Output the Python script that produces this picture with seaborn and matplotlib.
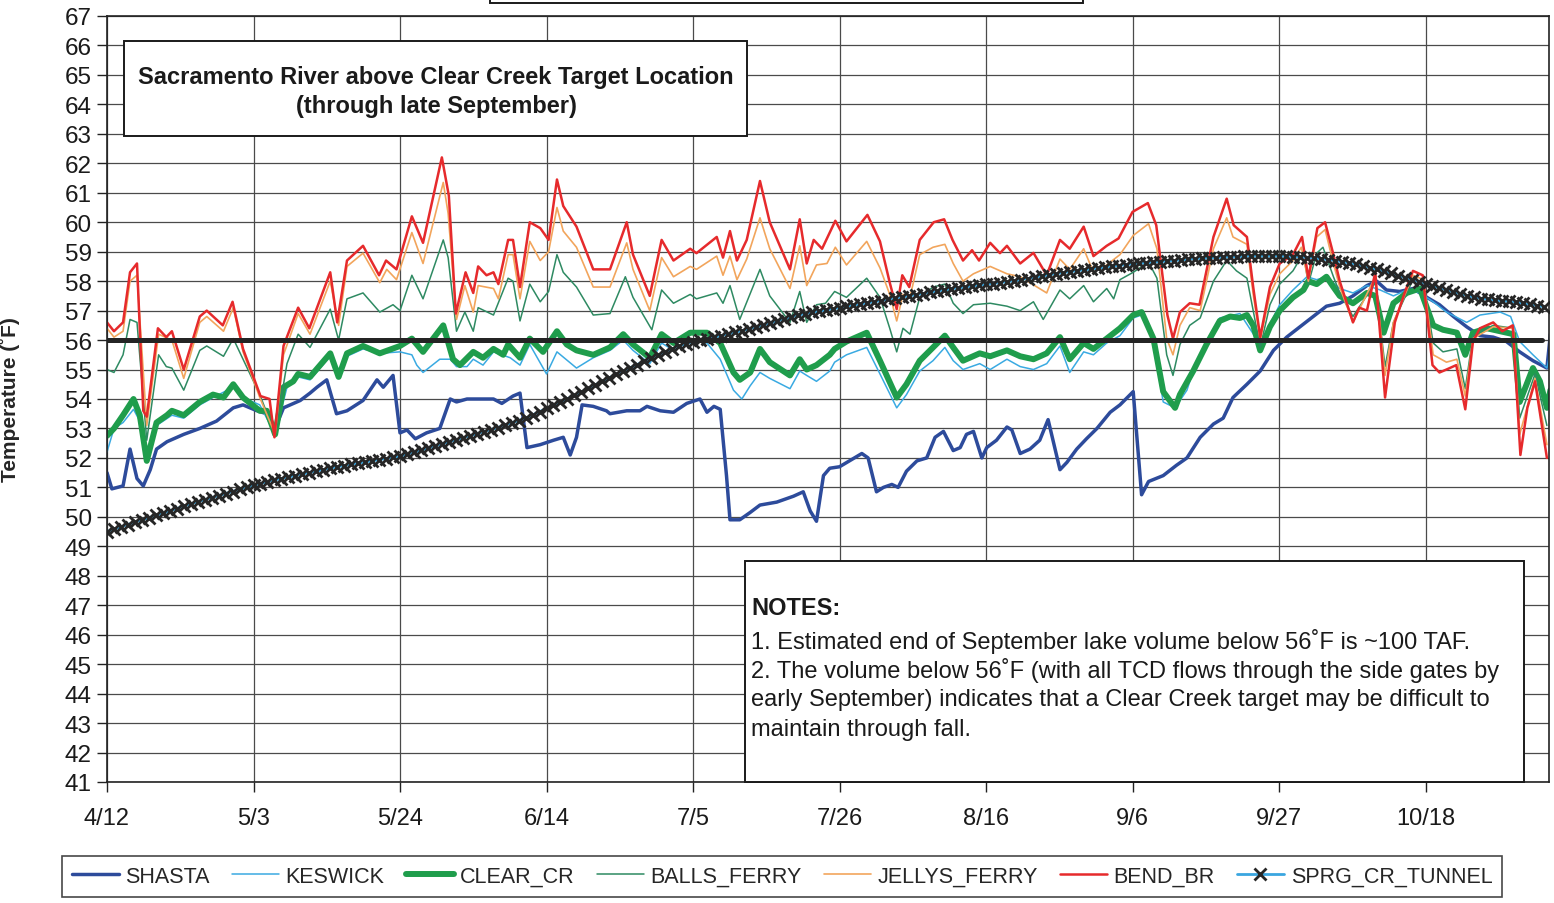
import numpy as np
import pandas as pd
import matplotlib
matplotlib.use("Agg")
import matplotlib.pyplot as plt
from matplotlib.lines import Line2D
from matplotlib.patches import Rectangle
import seaborn as sns

# ---------------- data ----------------
YEAR = "2014"
x_tick_labels = ["4/12", "5/3", "5/24", "6/14", "7/5", "7/26", "8/16", "9/6", "9/27", "10/18"]
y_ticks = list(range(41, 68))

# day offsets from 4/12 and temperatures (deg F)
shasta_days = [0, 0.7, 2.3, 3.3, 4.3, 5.2, 6.2, 7.1, 8.6, 11,
               13.3, 15.7, 18.1, 19.5, 21.5, 22.9, 24.1, 25.3, 27.7, 29.1,
               30.1, 31.5, 32.9, 34.4, 36.7, 38.7, 39.6, 41, 42, 43,
               44.2, 45.8, 47.7, 49.2, 50.1, 51.6, 53, 55.4, 56.6, 58.2,
               59.2, 60.2, 62.1, 64, 65.4, 66.4, 67.3, 68.1, 69.7, 71.6,
               72.1, 74.5, 76.4, 77.4, 79.3, 81.2, 83.1, 85, 86, 87,
               87.9, 88.8, 89.3, 90.7, 92.2, 93.6, 96, 98.4, 99.8, 100.8,
               101.7, 102.7, 103.6, 105, 108.2, 109.1, 110.3, 111.3, 112.5, 113.4,
               114.6, 116.1, 117.5, 118.7, 119.9, 121.3, 122.3, 123.2, 124.2, 125.4,
               126.1, 127.5, 129, 129.7, 130.9, 132.3, 133.7, 134.9, 135.6, 136.6,
               137.6, 139, 140.4, 141.9, 143.8, 145.2, 147.1, 148.3, 149.3, 151.4,
               153.3, 154.8, 156.7, 158.6, 160, 161.4, 163.4, 165.3, 167.2, 169.1,
               171, 172.9, 174.8, 176.7, 178.6, 180.6, 182, 183.4, 185.3, 187.2,
               189.2, 191, 193, 194.9, 196.8, 198.7, 200.6, 202.5, 204.4, 206.4,
               206.9]
shasta_temp = [51.5, 50.95, 51.05, 52.3, 51.3, 51.05, 51.6, 52.3, 52.55, 52.8,
               53.0, 53.25, 53.7, 53.8, 53.6, 53.5, 53.0, 53.7, 53.95, 54.2,
               54.4, 54.65, 53.5, 53.6, 53.95, 54.65, 54.4, 54.8, 52.85, 52.95,
               52.65, 52.85, 53.0, 54.0, 53.9, 54.0, 54.0, 54.0, 53.85, 54.1,
               54.2, 52.35, 52.45, 52.6, 52.7, 52.1, 52.7, 53.8, 53.75, 53.6,
               53.5, 53.6, 53.6, 53.75, 53.6, 53.55, 53.85, 54.0, 53.55, 53.75,
               53.65, 51.4, 49.9, 49.9, 50.15, 50.4, 50.5, 50.7, 50.85, 50.2,
               49.85, 51.4, 51.65, 51.7, 52.15, 52.0, 50.85, 51.0, 51.1, 51.0,
               51.55, 51.9, 52.0, 52.7, 52.9, 52.25, 52.35, 52.8, 52.9, 52.0,
               52.35, 52.6, 53.05, 52.95, 52.15, 52.3, 52.6, 53.3, 52.6, 51.6,
               51.85, 52.3, 52.65, 53.0, 53.55, 53.8, 54.25, 50.75, 51.2, 51.4,
               51.75, 52.0, 52.7, 53.15, 53.35, 54.05, 54.5, 54.95, 55.65, 56.1,
               56.45, 56.8, 57.15, 57.25, 57.5, 57.85, 58.0, 57.7, 57.65, 57.75,
               57.45, 57.2, 56.8, 56.45, 56.15, 56.1, 55.95, 55.6, 55.3, 55.05,
               56.2]

keswick_days = [0, 1, 2.3, 3.8, 4.7, 5.7, 7.1, 9.3, 11, 13.3,
                15.2, 18.1, 19.5, 21.9, 24.1, 25.8, 27.4, 29.1, 32, 33.2,
                34.4, 36.7, 39.1, 42, 43.7, 44.4, 45.3, 47.7, 49.2, 50.1,
                51.6, 52.5, 53.9, 55.4, 57.8, 59.2, 60.6, 63, 64.5, 67.3,
                69.7, 72.1, 74, 75.4, 77.8, 79.5, 81.2, 83.6, 86, 87.9,
                89.8, 91, 92.2, 93.6, 95, 97.9, 99.3, 100.3, 101.7, 103.6,
                104.3, 106, 108.9, 110.8, 113.2, 114.6, 116.5, 118.4, 120.1, 121.3,
                122.7, 125.1, 126.6, 129, 130.9, 132.8, 134.7, 136.6, 138, 140,
                141.4, 143.3, 145.2, 147.1, 148.3, 150, 151.4, 153.1, 154.8, 155.7,
                157.6, 159.5, 162.4, 165.3, 166.7, 168.1, 170, 172, 173.4, 174.8,
                176.7, 178.6, 180.6, 182.5, 184.4, 186.3, 188.2, 190.1, 192, 194.9,
                196.8, 199.7, 201.2, 202.5, 204.4, 206.4, 206.9]
keswick_temp = [52.2, 53.0, 53.2, 53.65, 53.25, 52.1, 53.1, 53.45, 53.35, 53.8,
                54.05, 54.4, 54.05, 53.8, 52.8, 54.4, 54.75, 54.65, 55.45, 54.75,
                55.45, 55.7, 55.55, 55.6, 55.5, 55.15, 54.9, 55.35, 55.35, 55.1,
                55.1, 55.35, 55.15, 55.6, 55.4, 55.15, 55.85, 54.85, 55.6, 55.05,
                55.4, 55.65, 56.0, 55.65, 55.2, 55.9, 55.65, 56.0, 55.9, 55.35,
                54.3, 54.0, 54.45, 54.9, 54.7, 54.35, 54.95, 54.8, 54.6, 54.95,
                55.25, 55.5, 55.75, 54.85, 53.7, 54.15, 54.95, 55.3, 55.75, 55.3,
                55.0, 55.2, 55.0, 55.35, 55.1, 55.0, 55.2, 55.8, 54.9, 55.6,
                55.5, 55.9, 56.15, 56.75, 56.85, 55.95, 53.9, 53.7, 54.3, 54.95,
                55.95, 56.75, 56.9, 55.85, 56.55, 57.2, 57.7, 58.15, 58.05, 58.15,
                57.75, 57.6, 57.85, 57.7, 57.5, 57.7, 57.6, 57.3, 56.95, 56.6,
                56.85, 56.95, 56.8, 55.95, 55.5, 55.05, 55.6]

clear_days = [0, 1, 2.3, 3.8, 4.7, 5.7, 7.1, 8.6, 9.3, 11,
              13.3, 15.2, 16.7, 18.1, 19.5, 21.9, 22.9, 24.1, 25.3, 26.7,
              27.4, 29.1, 32, 33.2, 34.4, 36.7, 39.1, 42, 43.7, 45.3,
              48.2, 49.6, 50.6, 52.5, 53.9, 55.4, 56.8, 57.5, 59.2, 60.6,
              62.5, 64.5, 65.9, 67.3, 69.7, 72.1, 74, 75.4, 77.8, 79.5,
              81.2, 83.6, 86, 87.9, 89.8, 90.7, 92.2, 93.6, 95, 97.9,
              99.3, 100.3, 101.7, 103.6, 104.3, 106, 108.9, 110.8, 113.2, 114.6,
              116.5, 118.4, 120.1, 121.3, 122.7, 125.1, 126.6, 129, 130.9, 132.8,
              134.7, 136.6, 138, 140, 141.4, 143.3, 145.2, 147.1, 148.3, 150,
              151.4, 153.1, 153.8, 155.7, 157.6, 159.5, 161, 162.4, 163.4, 164.3,
              165.3, 166.7, 168.1, 170, 171.5, 172.2, 173.4, 174.8, 175.8, 176.7,
              178.6, 180.6, 181.8, 183, 184.4, 186.3, 188.2, 190.1, 191.5, 193.5,
              194.7, 195.8, 197.8, 199.7, 201.6, 202.5, 204.4, 205.4, 206.4, 206.9]
clear_temp = [52.75, 53.0, 53.45, 54.0, 53.45, 51.9, 53.2, 53.45, 53.6, 53.45,
              53.9, 54.15, 54.05, 54.5, 54.05, 53.6, 53.6, 52.8, 54.4, 54.6,
              54.85, 54.75, 55.55, 54.75, 55.55, 55.8, 55.55, 55.8, 56.05, 55.6,
              56.5, 55.35, 55.15, 55.6, 55.4, 55.7, 55.5, 55.85, 55.4, 56.05,
              55.6, 56.3, 55.85, 55.65, 55.5, 55.75, 56.2, 55.85, 55.4, 56.2,
              55.9, 56.25, 56.25, 55.9, 54.9, 54.65, 54.9, 55.7, 55.25, 54.8,
              55.35, 55.0, 55.15, 55.5, 55.7, 55.95, 56.25, 55.3, 54.05, 54.5,
              55.3, 55.75, 56.15, 55.75, 55.3, 55.55, 55.45, 55.65, 55.45, 55.35,
              55.55, 56.1, 55.35, 55.9, 55.7, 56.05, 56.4, 56.85, 56.95, 56.05,
              54.25, 53.7, 54.15, 54.95, 55.85, 56.65, 56.8, 56.75, 56.85, 56.5,
              55.65, 56.45, 57.0, 57.45, 57.7, 58.0, 57.9, 58.15, 57.8, 57.5,
              57.25, 57.6, 57.5, 56.25, 57.25, 57.6, 57.75, 56.5, 56.35, 56.25,
              55.5, 56.25, 56.4, 56.3, 56.2, 53.9, 55.05, 54.6, 53.7, 54.3]

balls_days = [0, 1, 2.3, 3.3, 4.3, 5.7, 7.4, 8.5, 9.3, 11,
              13.3, 14.3, 16.7, 18.1, 19.5, 21.9, 24.1, 25.8, 27.4, 29.1,
              32, 33.2, 34.4, 36.7, 39.1, 41, 42, 43.7, 45.3, 48.2,
              48.9, 50.1, 51.3, 52.5, 53.2, 55.4, 57.5, 58.2, 59.2, 60.6,
              62.1, 63.3, 64.5, 65.4, 67.3, 69.7, 72.1, 74.3, 75.4, 78.1,
              79.5, 81.2, 83.6, 84.5, 87.4, 88.3, 89.3, 90.7, 93.6, 95,
              97.9, 99.3, 100.3, 101.7, 103, 104.3, 106, 108.9, 110.8, 112.2,
              113.2, 114.1, 115.1, 116.5, 118.4, 120.1, 121.3, 122.7, 124.2, 126.6,
              129, 130.9, 132.8, 134.2, 136.6, 138, 140, 141.4, 143.3, 144.3,
              145.2, 147.1, 149.3, 150.5, 151.9, 152.8, 153.8, 155.2, 156.7, 158.6,
              160.5, 161.9, 163.4, 164.3, 165.3, 166.7, 168.1, 170, 171.5, 172.2,
              173.4, 174.3, 175.8, 176.7, 178.6, 181.8, 183.2, 184.4, 187.2, 188.7,
              190.1, 191.5, 193.5, 194.7, 195.8, 198.7, 201.6, 202.5, 204.7, 206.4]
balls_temp = [55.0, 54.9, 55.5, 56.7, 56.6, 52.6, 55.5, 55.1, 55.05, 54.3,
              55.65, 55.8, 55.45, 56.05, 55.35, 54.15, 52.8, 55.2, 56.2, 55.75,
              57.05, 56.0, 57.4, 57.6, 56.95, 57.2, 57.0, 58.2, 57.4, 59.4,
              58.8, 56.3, 56.95, 56.3, 57.1, 56.85, 58.1, 58.0, 56.65, 57.9,
              57.3, 57.65, 58.9, 58.3, 57.8, 56.85, 56.9, 58.15, 57.45, 56.35,
              57.7, 57.25, 57.55, 57.4, 57.6, 57.25, 57.85, 56.7, 58.4, 57.5,
              56.6, 57.65, 56.6, 57.2, 57.25, 57.65, 57.45, 58.1, 57.45, 56.4,
              55.6, 56.4, 56.2, 57.45, 57.8, 57.9, 57.25, 56.9, 57.2, 57.25,
              57.15, 57.0, 57.3, 56.7, 57.7, 57.4, 57.85, 57.3, 57.75, 57.4,
              58.05, 58.3, 58.65, 58.1, 55.5, 54.8, 55.85, 56.5, 56.75, 58.0,
              58.7, 58.35, 58.1, 57.0, 55.75, 57.2, 57.9, 58.35, 58.95, 57.9,
              58.95, 59.15, 58.15, 57.6, 56.8, 57.95, 55.1, 56.6, 58.05, 57.95,
              55.9, 55.6, 55.7, 54.35, 56.15, 56.5, 56.4, 53.35, 54.85, 53.1]

jellys_days = [0, 1, 2.3, 3.3, 4.3, 5.7, 7.4, 9.3, 11, 13.3,
               14.3, 16.7, 18.1, 19.5, 21.9, 24.1, 25.3, 27.4, 29.1, 32,
               33.2, 34.4, 36.7, 39.1, 40.1, 41.5, 43.7, 45.3, 48.2, 48.9,
               50.1, 51.3, 52.5, 53.2, 55.4, 56.1, 57.5, 58.2, 59.2, 60.6,
               62.1, 63.3, 64.5, 65.4, 67.3, 69.7, 72.1, 74.5, 75.4, 77.8,
               79.5, 81.2, 83.6, 84.5, 87.4, 88.3, 89.3, 90.3, 91.7, 93.6,
               95, 97.9, 99.3, 100.3, 101.7, 103.2, 104.4, 106, 108.9, 110.8,
               112.2, 113.2, 114.1, 115.1, 116.5, 118.4, 120.1, 121.3, 122.7, 124.2,
               126.6, 129, 130.9, 134.7, 136.6, 138, 140, 141.4, 143.3, 145.2,
               147.1, 149.3, 150.5, 151.9, 152.8, 153.8, 155.2, 156.7, 158.6, 160.5,
               161.4, 163.4, 164.3, 165.3, 166.7, 168.1, 170, 171.2, 172.2, 173.4,
               174.6, 175.8, 176.7, 178.6, 181.8, 183.2, 184.4, 187.2, 188.7, 190.1,
               192, 193.5, 194.7, 195.8, 198.7, 201.6, 202.5, 204.7, 206.4]
jellys_temp = [56.4, 56.1, 56.3, 58.0, 58.2, 53.1, 56.2, 56.0, 54.7, 56.6,
               56.8, 56.3, 57.1, 55.6, 54.05, 52.8, 55.5, 56.9, 56.2, 58.0,
               56.5, 58.5, 58.95, 57.95, 58.4, 58.05, 59.65, 58.6, 61.35, 60.3,
               56.7, 57.85, 56.95, 57.85, 57.75, 57.4, 58.9, 58.9, 57.4, 59.35,
               58.7, 59.0, 60.5, 59.7, 59.15, 57.8, 57.8, 59.3, 58.4, 57.0,
               58.8, 58.15, 58.5, 58.4, 58.85, 58.2, 58.85, 58.05, 58.75, 60.15,
               59.1, 57.75, 59.2, 57.85, 58.55, 58.6, 59.15, 58.55, 59.35, 58.45,
               57.55, 56.65, 57.55, 57.45, 58.9, 59.15, 59.25, 58.6, 58.0, 58.25,
               58.5, 58.25, 58.15, 57.6, 58.75, 58.4, 59.1, 58.3, 58.55, 58.9,
               59.55, 59.95, 59.1, 56.05, 55.5, 56.5, 57.1, 57.0, 59.1, 60.15,
               59.5, 59.25, 57.55, 56.0, 57.55, 58.25, 58.7, 59.15, 58.0, 59.5,
               59.75, 58.6, 57.8, 56.6, 58.15, 54.8, 56.6, 58.2, 58.05, 55.5,
               55.25, 55.35, 54.1, 56.05, 56.45, 56.4, 52.8, 54.7, 52.45]

bend_days = [0, 1, 2.3, 3.3, 4.3, 5.2, 5.7, 7.3, 8.5, 9.3,
             11, 13.3, 14.3, 16.6, 18, 19.5, 22, 23.3, 24, 25.3,
             27.4, 29, 32, 33, 34.4, 36.7, 39, 40, 41.5, 43.7,
             45.3, 48, 49, 50, 51.4, 52.5, 53.2, 54.4, 55.4, 56.1,
             57.5, 58.2, 59.2, 60.6, 62.1, 63.3, 64.5, 65.4, 67.3, 69.7,
             72.1, 74.5, 75.4, 77.8, 79.5, 81.2, 83.6, 84.5, 87.4, 88.3,
             89.3, 90.3, 91.7, 93.6, 95, 97.9, 99.3, 100.3, 101.3, 102.5,
             104.4, 106, 109, 110.8, 112.2, 113.2, 114, 115, 116.5, 118.5,
             120, 121.2, 122.7, 124, 125, 126.6, 128, 129, 130.9, 132.8,
             134.7, 136.6, 138, 140, 141.4, 143.3, 145, 147, 149.2, 150.4,
             152, 152.8, 153.8, 155.2, 156.6, 158.6, 160.5, 161.5, 163.4, 164.3,
             165.3, 166.7, 168.1, 170, 171.3, 172.2, 173.5, 174.6, 175.8, 176.7,
             178.6, 179.5, 180.6, 181.8, 183.2, 184.6, 186, 187.2, 188.6, 190,
             191, 192, 193.4, 194.7, 195.8, 196.8, 198.7, 200, 201.5, 202.6,
             203.6, 204.7, 206.4]
bend_temp = [56.6, 56.3, 56.6, 58.3, 58.6, 53.6, 53.4, 56.4, 56.1, 56.3,
             55.0, 56.8, 57.0, 56.5, 57.3, 55.7, 54.1, 54.0, 52.7, 55.8,
             57.1, 56.4, 58.3, 56.6, 58.7, 59.2, 58.2, 58.7, 58.4, 60.2,
             59.3, 62.2, 60.9, 56.9, 58.3, 57.6, 58.5, 58.2, 58.3, 57.9,
             59.4, 59.4, 57.8, 60.0, 59.8, 59.4, 61.45, 60.55, 59.85, 58.4,
             58.4, 60.0, 58.9, 57.5, 59.4, 58.7, 59.1, 58.95, 59.5, 58.8,
             59.7, 58.7, 59.4, 61.4, 60.0, 58.4, 60.1, 58.6, 59.4, 59.1,
             60.05, 59.35, 60.25, 59.35, 57.95, 57.05, 58.2, 57.8, 59.4, 60.0,
             60.1, 59.4, 58.7, 59.05, 58.7, 59.3, 58.95, 59.2, 58.6, 58.96,
             58.2, 59.4, 59.1, 59.85, 58.85, 59.2, 59.45, 60.35, 60.65, 59.9,
             56.85, 56.05, 56.95, 57.25, 57.2, 59.5, 60.8, 59.9, 59.5, 57.8,
             56.1, 57.8, 58.6, 58.9, 59.5, 58.1, 59.8, 60.0, 58.9, 58.0,
             56.6, 57.1, 57.0, 58.3, 54.05, 56.6, 57.6, 58.35, 58.2, 55.15,
             54.9, 55.0, 55.15, 53.65, 55.95, 56.4, 56.6, 56.3, 56.5, 52.1,
             53.7, 54.6, 52.0]

# daily values from 4/12
sprg_temp = [49.50, 49.58, 49.66, 49.74, 49.82, 49.90, 49.97, 50.05, 50.12, 50.20,
             50.28, 50.36, 50.44, 50.51, 50.58, 50.65, 50.72, 50.79, 50.86, 50.93,
             51.00, 51.07, 51.13, 51.19, 51.25, 51.30, 51.35, 51.40, 51.45, 51.50,
             51.55, 51.60, 51.65, 51.70, 51.74, 51.78, 51.82, 51.86, 51.90, 51.94,
             51.98, 52.02, 52.06, 52.12, 52.19, 52.26, 52.33, 52.40, 52.47, 52.54,
             52.61, 52.68, 52.75, 52.82, 52.89, 52.96, 53.03, 53.11, 53.19, 53.27,
             53.35, 53.46, 53.57, 53.68, 53.79, 53.90, 54.01, 54.12, 54.24, 54.36,
             54.48, 54.60, 54.72, 54.84, 54.95, 55.06, 55.17, 55.28, 55.39, 55.50,
             55.60, 55.70, 55.80, 55.88, 55.95, 56.00, 56.05, 56.10, 56.15, 56.20,
             56.26, 56.32, 56.38, 56.44, 56.50, 56.57, 56.64, 56.71, 56.78, 56.84,
             56.89, 56.94, 56.98, 57.02, 57.06, 57.10, 57.14, 57.18, 57.22, 57.26,
             57.30, 57.34, 57.38, 57.42, 57.46, 57.50, 57.54, 57.58, 57.62, 57.66,
             57.70, 57.74, 57.77, 57.80, 57.83, 57.86, 57.89, 57.92, 57.95, 57.98,
             58.01, 58.05, 58.09, 58.13, 58.17, 58.21, 58.25, 58.29, 58.32, 58.35,
             58.38, 58.41, 58.44, 58.47, 58.50, 58.53, 58.56, 58.58, 58.60, 58.62,
             58.64, 58.66, 58.68, 58.70, 58.72, 58.74, 58.76, 58.78, 58.79, 58.80,
             58.81, 58.82, 58.83, 58.84, 58.85, 58.85, 58.85, 58.85, 58.85, 58.84,
             58.83, 58.82, 58.80, 58.78, 58.76, 58.73, 58.70, 58.66, 58.62, 58.57,
             58.52, 58.46, 58.40, 58.33, 58.26, 58.19, 58.12, 58.05, 57.98, 57.91,
             57.84, 57.77, 57.70, 57.63, 57.57, 57.51, 57.45, 57.41, 57.38, 57.35,
             57.33, 57.31, 57.28, 57.25, 57.21, 57.17, 57.13]

target_days = [0, 205.7]
target_temp = [56.0, 56.0]

title_text = "Sacramento River above Clear Creek Target Location\n(through late September)"
notes_title = "NOTES:"
notes_lines = [
    "1. Estimated end of September lake volume below 56\u02daF is ~100 TAF.",
    "2. The volume below 56\u02daF (with all TCD flows through the side gates by",
    "early September) indicates that a Clear Creek target may be difficult to",
    "maintain through fall.",
]

# ---------------- styling ----------------
sns.set_style("white")
plt.rcParams["font.family"] = ["Liberation Sans", "DejaVu Sans"]

W, H = 1554, 904
def fx(p):
    return p / W
def fy(p):
    return 1 - p / H

start = pd.Timestamp(f"{YEAR}-04-12")

def frame(days, temps, name):
    return pd.DataFrame({
        "date": start + pd.to_timedelta(np.asarray(days, dtype=float), unit="D"),
        "temp": temps,
        "station": name,
    })

series = [
    ("SHASTA", shasta_days, shasta_temp, dict(color="#2D4B9B", linewidth=2.5)),
    ("KESWICK", keswick_days, keswick_temp, dict(color="#3AAAE2", linewidth=1.1)),
    ("CLEAR_CR", clear_days, clear_temp, dict(color="#1F9D4C", linewidth=4.3)),
    ("BALLS_FERRY", balls_days, balls_temp, dict(color="#2E8A62", linewidth=1.1)),
    ("JELLYS_FERRY", jellys_days, jellys_temp, dict(color="#F2A55C", linewidth=1.2)),
    ("BEND_BR", bend_days, bend_temp, dict(color="#E62A2C", linewidth=1.8)),
]
sprg_style = dict(color="#3AA6E0", linewidth=2.0, marker="x", markersize=9,
                  markeredgewidth=2.0, markeredgecolor="#262626")

fig = plt.figure(figsize=(15.54, 9.04), dpi=100)
ax = fig.add_axes([fx(107), fy(783), fx(1549) - fx(107), fy(17) - fy(783)])

for name, d, t, st in series:
    sns.lineplot(data=frame(d, t, name), x="date", y="temp", ax=ax,
                 estimator=None, sort=False, legend=False, **st)

sns.lineplot(data=frame(list(range(len(sprg_temp))), sprg_temp, "SPRG_CR_TUNNEL"),
             x="date", y="temp", ax=ax, estimator=None, sort=False, legend=False,
             **sprg_style)

sns.lineplot(data=frame(target_days, target_temp, "target"), x="date", y="temp",
             ax=ax, estimator=None, sort=False, legend=False,
             color="#242424", linewidth=3.6)

# axes
ax.set_ylim(41, 67)
ax.set_yticks(y_ticks)
ax.set_xlim(start, start + pd.Timedelta(days=206.7))
xticks = [pd.to_datetime(f"{YEAR}/{lab}", format="%Y/%m/%d") for lab in x_tick_labels]
ax.set_xticks(xticks)
ax.set_xticklabels(x_tick_labels)
ax.set_xlabel("")
ax.set_ylabel("Temperature (\u02daF)", fontsize=15, fontweight="bold")
ax.yaxis.set_label_coords(-0.06, 0.5)

ax.set_axisbelow(True)
ax.grid(True, color="#4a4a4a", linewidth=0.9)
for s in ax.spines.values():
    s.set_visible(True)
    s.set_color("#222222")
    s.set_linewidth(1.2)
ax.tick_params(axis="both", which="major", direction="out", length=7, width=1,
               color="#222222", left=True, bottom=True, labelcolor="#1a1a1a")
ax.tick_params(axis="y", labelsize=17.5, pad=4)
ax.tick_params(axis="x", labelsize=17, pad=11)

# title box inside plot
fig.add_artist(Rectangle((fx(124), fy(137)), fx(747) - fx(124), fy(42) - fy(137),
                         transform=fig.transFigure, facecolor="white",
                         edgecolor="#1a1a1a", linewidth=1.4, zorder=5))
fig.text(fx(436), fy(92), title_text, ha="center", va="center", fontsize=17,
         fontweight="bold", linespacing=1.3, color="#1a1a1a", zorder=6)

# partial box at very top (cut off by page edge)
fig.add_artist(Rectangle((fx(490), fy(4)), fx(1083) - fx(490), 0.1,
                         transform=fig.transFigure, facecolor="white",
                         edgecolor="#1a1a1a", linewidth=1.4, zorder=5,
                         clip_on=False))

# notes box
fig.add_artist(Rectangle((fx(745), fy(783)), fx(1524) - fx(745), fy(562) - fy(783),
                         transform=fig.transFigure, facecolor="white",
                         edgecolor="#1a1a1a", linewidth=1.4, zorder=5))
fig.text(fx(751), fy(609), notes_title, ha="left", va="center", fontsize=17,
         fontweight="bold", color="#1a1a1a", zorder=6)
for i, line in enumerate(notes_lines):
    fig.text(fx(751), fy(641 + 29.7 * i), line, ha="left", va="center",
             fontsize=17, color="#1a1a1a", zorder=6)

# legend
handles = []
labels = []
for name, d, t, st in series:
    handles.append(Line2D([], [], **st))
    labels.append(name)
handles.append(Line2D([], [], **sprg_style))
labels.append("SPRG_CR_TUNNEL")
leg = fig.legend(handles, labels, loc="center", ncol=7, mode="expand",
                 bbox_to_anchor=(fx(62), fy(900), fx(1502) - fx(62), fy(855) - fy(900)),
                 bbox_transform=fig.transFigure, frameon=True, fancybox=False,
                 fontsize=15.5, handlelength=2.2, handletextpad=0.3,
                 borderaxespad=0, borderpad=0.45, numpoints=1)
leg.get_frame().set_edgecolor("#1a1a1a")
leg.get_frame().set_linewidth(1.2)

fig.savefig("out.png", dpi=100)
